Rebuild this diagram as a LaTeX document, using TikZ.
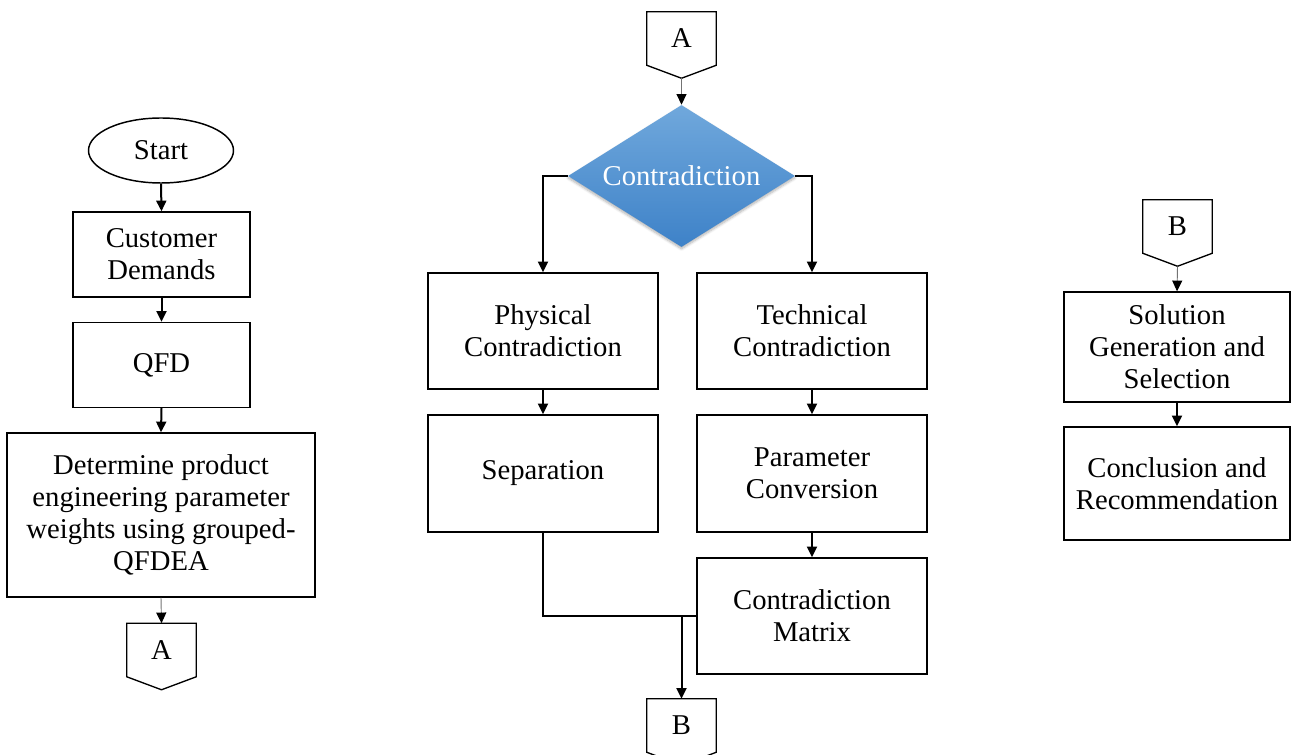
\documentclass[tikz,border=0pt]{standalone}
\usepackage{fontspec}
\setmainfont{Liberation Serif}
\usetikzlibrary{arrows.meta,shapes.geometric,shadows.blur}
\definecolor{dtop}{RGB}{112,168,220}
\definecolor{dbot}{RGB}{62,130,200}
\tikzset{
  every node/.style={font=\fontsize{21.5}{24}\selectfont, align=center, inner sep=0pt},
  procbox/.style={draw=black, line width=1.1pt, rectangle},
  conn/.style={rectangle, minimum width=51.75pt, minimum height=39.75pt},
  connline/.style={draw=black, line width=1pt, line join=miter},
  thickarrow/.style={draw=black, line width=1.5pt, -{Triangle[width=7.5pt,length=8pt]}},
  thinarrow/.style={draw=black!55, line width=0.7pt, -{Triangle[width=7.5pt,length=8pt,color=black]}},
  plainline/.style={draw=black, line width=1.5pt}
}
\newcommand\offpage[3]{%
  \node[conn] (#1) at (#2) {#3};
  \draw[connline] (#1.north west) -- (#1.north east) -- (#1.south east)
     -- ([yshift=-9.75pt]#1.south) -- (#1.south west) -- cycle;
  \coordinate (#1tip) at ([yshift=-9.75pt]#1.south);
}
\begin{document}
\begin{tikzpicture}[x=0.75pt,y=-0.75pt]
\useasboundingbox (0,0) rectangle (1291,755);
\clip (0,0) rectangle (1291,755);

% ---- left column ----
\node[ellipse, draw=black, line width=1.1pt, minimum width=108.75pt, minimum height=48.75pt] (start) at (161,150.5) {Start};
\node[procbox, minimum width=132.75pt, minimum height=63.75pt] (cust) at (161.5,254.5) {Customer\\Demands};
\node[procbox, minimum width=132.75pt, minimum height=63.75pt] (qfd) at (161.5,365) {QFD};
\node[procbox, minimum width=231pt, minimum height=123pt] (det) at (161,515) {Determine product\\engineering parameter\\weights using grouped-\\QFDEA};
\offpage{Aout}{161.5,650}{A}

\draw[thickarrow] (start.south) -- (cust.north);
\draw[thickarrow] (cust.south) -- (qfd.north);
\draw[thickarrow] (qfd.south) -- (det.north);
\draw[thinarrow] (det.south) -- (Aout.north);

% ---- middle column ----
\offpage{Ain}{681.5,38.5}{A}
\node[diamond, minimum width=170.25pt, minimum height=106.5pt, top color=dtop, bottom color=dbot, draw=none,
      blur shadow={shadow xshift=0pt, shadow yshift=-1.5pt, shadow opacity=30, shadow blur steps=6}] (dia) at (681.5,176) {};
\node[text=white] (dialabel) at (dia.center) {Contradiction};
\node[procbox, minimum width=172.5pt, minimum height=87pt] (phys) at (543,331) {Physical\\Contradiction};
\node[procbox, minimum width=172.5pt, minimum height=87pt] (tech) at (812,331) {Technical\\Contradiction};
\node[procbox, minimum width=172.5pt, minimum height=87.75pt] (sep) at (543,473.5) {Separation};
\node[procbox, minimum width=172.5pt, minimum height=87.75pt] (pconv) at (812,473.5) {Parameter\\Conversion};
\node[procbox, minimum width=172.5pt, minimum height=87pt] (matrix) at (812,616) {Contradiction\\Matrix};
\offpage{Bout}{681.5,725.5}{B}

\draw[thinarrow] (Aintip) -- (dia.north);
\draw[thickarrow] (dia.west) -| (phys.north);
\draw[thickarrow] (dia.east) -| (tech.north);
\draw[thickarrow] (phys.south) -- (sep.north);
\draw[thickarrow] (tech.south) -- (pconv.north);
\draw[thickarrow] (pconv.south) -- (matrix.north);
\draw[plainline] (sep.south) |- (matrix.west);
\draw[thickarrow] (Bout.north |- matrix.west) -- (Bout.north);

% ---- right column ----
\offpage{Bin}{1177.5,226.5}{B}
\node[procbox, minimum width=169.5pt, minimum height=82.5pt] (sol) at (1177,347) {Solution\\Generation and\\Selection};
\node[procbox, minimum width=169.5pt, minimum height=84.75pt] (concl) at (1177,483.5) {Conclusion and\\Recommendation};

\draw[thinarrow] (Bintip) -- (sol.north);
\draw[thickarrow] (sol.south) -- (concl.north);
\end{tikzpicture}
\end{document}
